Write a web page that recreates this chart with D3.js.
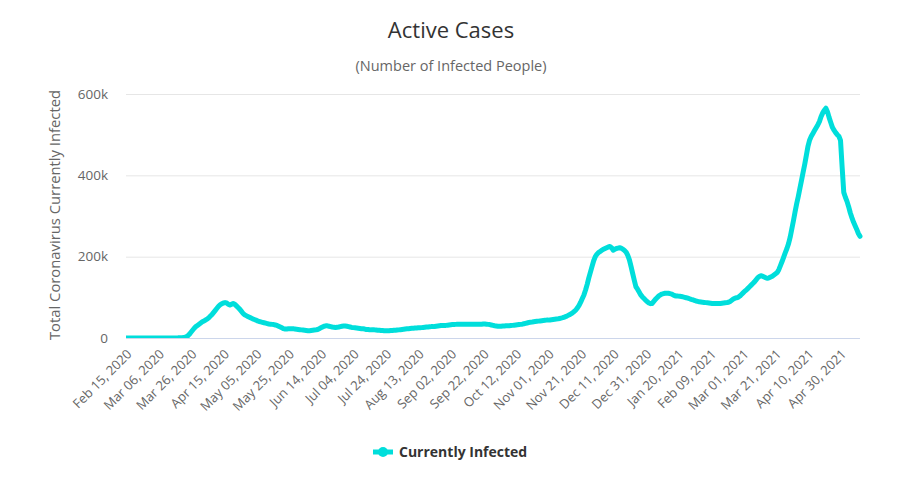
<!DOCTYPE html>
<html>
<head>
<meta charset="utf-8">
<script src="https://cdn.jsdelivr.net/npm/d3@7/dist/d3.min.js"></script>
<style>
  html, body { margin: 0; padding: 0; background: #fff; }
  svg { display: block; font-family: "Open Sans", "Noto Sans", sans-serif; }
</style>
</head>
<body>
<svg id="chart" width="921" height="494"></svg>
<script>
// ---- data ----
const titleText = "Active Cases";
const subtitleText = "(Number of Infected People)";
const yAxisTitle = "Total Coronavirus Currently Infected";
const seriesName = "Currently Infected";
const startDate = "2020-02-15";
const yTicks = [0, 200000, 400000, 600000];
const yTickLabels = ["0", "200k", "400k", "600k"];
const xTickEvery = 20;
// active cases, thousands, one value per day from Feb 15, 2020
const activeK = [
  0,0,0,0,0,0,0,0,0,0,
  0,0,0,0,0,0,0,0,0,0,
  0,0,0,0,0,0,0,0,0.05,0.1,
  0.2,0.3,0.4,0.6,0.9,1.3,1.8,2.5,5,9,
  14,19,24,28,31,34,37,40,42,44,
  47,50,54,58,63,68,73,78,82,84,
  86,87,86,83,81,83,85,83,79,75,
  71,66,61,57,55,53,51,49,47,45.5,
  44,42,40.5,39.5,38.5,37.5,36.5,35.5,34.5,34,
  33.5,33,32,31,29,27,25,23,22,22,
  22.5,23,23,23,22,21.5,21,20.5,20,19.5,
  19,18.5,18,18,18.5,19,19.5,20,21,23,
  25,27,29,30,30,29,28,27,26.5,26,
  26.5,27,28,29,29.5,29.5,29,28,27,26,
  25.5,25,24.5,24,23.5,23,22.5,22,21,21,
  20.5,20,20,20,19.5,19,19,18.5,18.5,18,
  18,18,18,18.5,18.5,19,19,19.5,20,20.5,
  21,21.5,22,22.5,23,23.5,24,24,24.5,24.5,
  25,25,25.5,26,26.5,27,27,27.5,28,28,
  28.5,29,29.5,30,30.5,31,31,31,31.5,32,
  32.5,33,33,33.5,34,34,34,34,34,34,
  34,34,34,34,34,34,34,34,34,34,
  34.5,34.5,34,33.5,33,32,31,30,29.5,29,
  29,29,29.5,29.5,30,30,30,30.5,31,31.5,
  32,32.5,33,33.5,34,35,36,37,38,38.5,
  39,40,40.5,41,41.5,42,42.5,43,43.5,44,
  44,44.5,45,45.5,46,46.5,47,48,49,50,
  51.5,53,55,57,59.5,62,65,69,74,80,
  88,97,106,118,132,148,162,176,190,200,
  206,210,213,216,218,220,222,224,225,222,
  216,218,220,221,222,221,218,215,211,203,
  192,176,159,142,126,120,113,106,101,97,
  93,89,86,84.5,85,90,95,99,103,106,
  108,109,110,110,110,109,108,106,104,103,
  103,102.5,102,101,100,99,98,96.5,95,94,
  92.5,91,90,89,88.5,88,87.5,87,86.5,86,
  85.5,85,85,85,85,85,85,85.5,86,86.5,
  87,88,90,93,96,98,99,100,103,107,
  111,115,118,122,126,130,134,138,143,148,
  151,153,152,150,148,147,148,150,152,155,
  158,161,168,178,188,199,210,220,232,248,
  268,288,310,330,348,368,388,408,428,450,
  472,487,496,503,510,517,524,532,544,553,
  560,565,556,542,530,518,511,505,500,496,
  486,420,358,346,336,323,308,296,285,276,
  267,257,250
];

// ---- build ----
const fmt = d3.timeFormat("%b %d, %Y");
const d0 = d3.timeParse("%Y-%m-%d")(startDate);
const categories = activeK.map((_, i) => fmt(d3.timeDay.offset(d0, i)));
const data = activeK.map((v, i) => ({ cat: categories[i], value: v * 1000 }));

const svg = d3.select("#chart");
const plot = { left: 126, right: 860, top: 94, bottom: 338 };
const lineColor = "#00dedb";

const x = d3.scalePoint().domain(categories).range([plot.left, plot.right]);
const y = d3.scaleLinear().domain([0, 600000]).range([plot.bottom, plot.top]);

// title
svg.append("text").attr("x", 451).attr("y", 38).attr("text-anchor", "middle")
  .attr("fill", "#333333").style("font-size", "22px").text(titleText);
svg.append("text").attr("x", 451).attr("y", 71).attr("text-anchor", "middle")
  .attr("fill", "#666666").style("font-size", "14.5px").text(subtitleText);

// grid + y axis
const yAxis = d3.axisLeft(y).tickValues(yTicks)
  .tickFormat((d, i) => yTickLabels[i])
  .tickSize(-(plot.right - plot.left)).tickPadding(18);
const gy = svg.append("g").attr("transform", `translate(${plot.left},0)`).call(yAxis);
gy.select(".domain").remove();
gy.selectAll(".tick line").attr("stroke", "#e6e6e6").attr("stroke-width", 1);
gy.selectAll(".tick text").attr("fill", "#666666").style("font-size", "13.5px")
  .style("font-family", "'Open Sans', sans-serif");
gy.selectAll(".tick").filter(d => d === 0).select("line").attr("stroke", "none");

// y axis title
svg.append("text")
  .attr("transform", `translate(60,${(plot.top + plot.bottom) / 2 - 1}) rotate(-90)`)
  .attr("text-anchor", "middle").attr("fill", "#666666")
  .style("font-size", "14.8px").text(yAxisTitle);

// x axis
const xTickVals = categories.filter((_, i) => i % xTickEvery === 0);
const xAxis = d3.axisBottom(x).tickValues(xTickVals).tickSize(0).tickPadding(0);
const gx = svg.append("g").attr("transform", `translate(0,${plot.bottom})`).call(xAxis);
gx.select(".domain").attr("stroke", "#ccd6eb").attr("d", `M${plot.left},0.5H${plot.right}`);
gx.selectAll(".tick text")
  .attr("fill", "#666666").style("font-size", "13px")
  .style("font-family", "'Open Sans', sans-serif")
  .attr("text-anchor", "end")
  .attr("dy", null)
  .attr("transform", "translate(6,17) rotate(-45)");

// clip
svg.append("clipPath").attr("id", "clip").append("rect")
  .attr("x", plot.left).attr("y", 0).attr("width", plot.right - plot.left + 4).attr("height", plot.bottom);

const line = d3.line().x(d => x(d.cat)).y(d => y(d.value));
svg.append("path").datum(data)
  .attr("clip-path", "url(#clip)")
  .attr("fill", "none").attr("stroke", lineColor).attr("stroke-width", 5)
  .attr("stroke-linejoin", "round").attr("stroke-linecap", "round")
  .attr("d", line);

// legend
const lg = svg.append("g").attr("transform", "translate(0,452)");
lg.append("path").attr("d", "M373,0H393").attr("stroke", lineColor).attr("stroke-width", 5);
lg.append("circle").attr("cx", 383).attr("cy", 0).attr("r", 5).attr("fill", lineColor);
lg.append("text").attr("x", 399).attr("y", 5).attr("fill", "#333333")
  .style("font-size", "14px").style("font-weight", "bold").text(seriesName);
</script>
</body>
</html>
